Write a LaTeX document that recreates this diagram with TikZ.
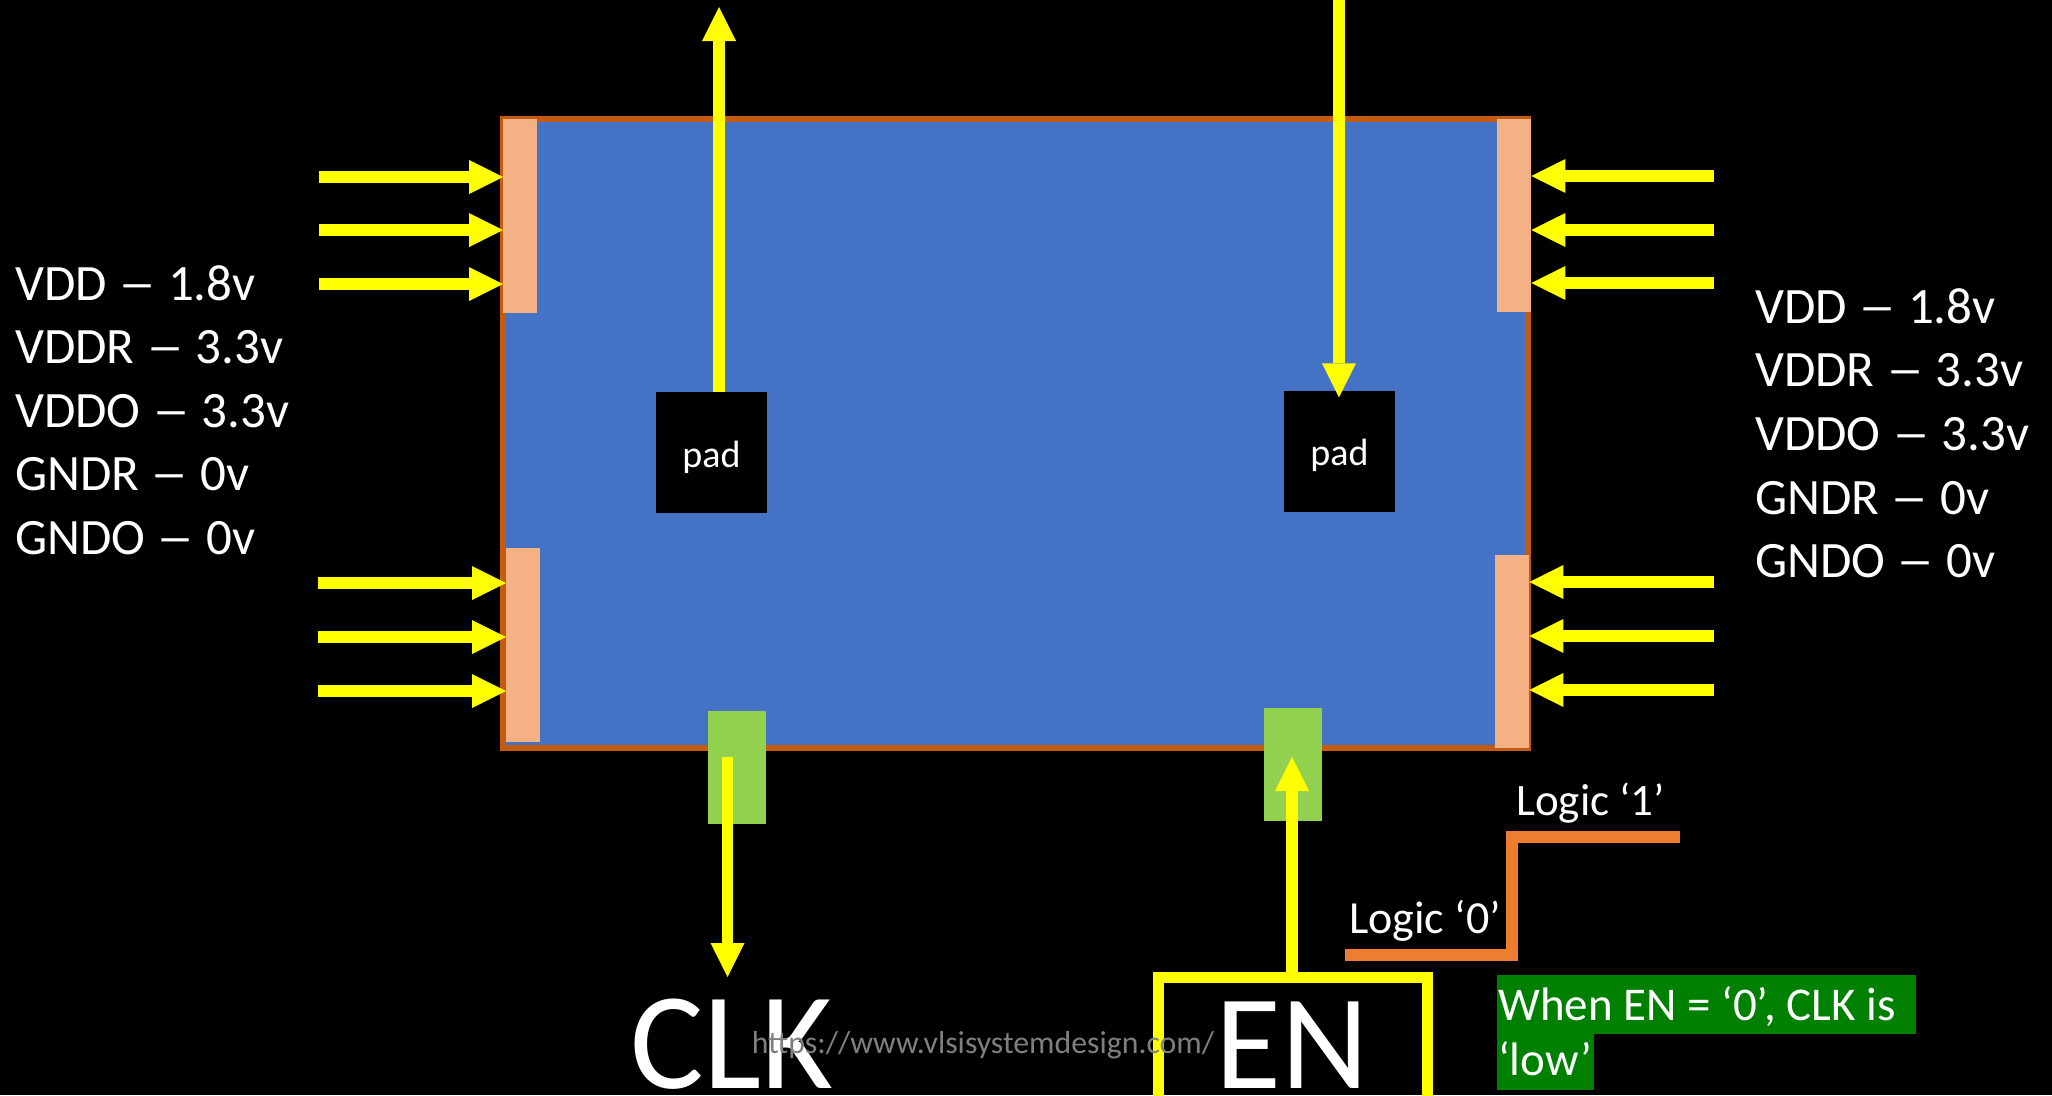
\documentclass[tikz,border=0pt]{standalone}
\usepackage{fontspec}
\usepackage{graphicx}
\setmainfont{Carlito}
\usetikzlibrary{arrows.meta}
\definecolor{chipblue}{HTML}{4472C4}
\definecolor{chipborder}{HTML}{C55A11}
\definecolor{peach}{HTML}{F4B183}
\definecolor{lime}{HTML}{92D050}
\definecolor{yel}{HTML}{FFFF00}
\definecolor{stepor}{HTML}{ED7D31}
\definecolor{hlgreen}{HTML}{008000}
\definecolor{wmgray}{HTML}{7F7F7F}
\newcommand\fsz[1]{\fontsize{#1}{#1}\selectfont}
\newcommand\voltdash{\scalebox{1.5}[1]{–}}
\tikzset{
  chip/.style={draw=chipborder, fill=chipblue, line width=6pt, inner sep=0pt,
    minimum width=1025pt, minimum height=629pt},
  peachpad/.style={fill=peach, inner sep=0pt, minimum width=34pt},
  padbox/.style={fill=black, inner sep=0pt, minimum width=111pt, minimum height=121pt,
    text=white, font=\fsz{38}, text height=29pt, text depth=0pt},
  limebox/.style={fill=lime, inner sep=0pt, minimum width=58pt, minimum height=113pt},
  yarr/.style={draw=yel, line width=11.5pt,
    -{Triangle[length=34pt,width=34pt,line width=0pt]}},
  enbox/.style={draw=yel, line width=11pt, inner sep=0pt, minimum width=269pt, minimum height=145pt},
  stepline/.style={draw=stepor, line width=11.5pt, line join=miter},
  txt/.style={text=white, inner sep=0pt},
  volt/.style={txt, anchor=base west, font=\fsz{51}},
}
\begin{document}
\begin{tikzpicture}[x=1pt,y=-1pt]
\useasboundingbox (0,0) rectangle (2052,1095);
\fill[black] (0,0) rectangle (2052,1095);

% chip
\node[chip] (chip) at (1015.5,433.5) {};
\node[peachpad, anchor=north west, minimum height=194pt] (pl1) at (503,119) {};
\node[peachpad, anchor=north west, minimum height=194pt] (pl2) at (506,548) {};
\node[peachpad, anchor=north west, minimum height=193pt] (pr1) at (1497,119) {};
\node[peachpad, anchor=north west, minimum height=193pt] (pr2) at (1495,555) {};

% pads
\node[padbox] (padL) at (711.5,452.5) {pad};
\node[padbox] (padR) at (1339.5,451) {pad};

% side arrows
\foreach \y [count=\i] in {177,230,284} {
  \coordinate (lt\i) at (319,\y);
  \draw[yarr] (lt\i) -- (lt\i -| pl1.west);
}
\foreach \y [count=\i] in {583,637,691} {
  \coordinate (lb\i) at (318,\y);
  \draw[yarr] (lb\i) -- (lb\i -| pl2.west);
}
\foreach \y [count=\i] in {176,230,283} {
  \coordinate (rt\i) at (1714,\y);
  \draw[yarr] (rt\i) -- (rt\i -| pr1.east);
}
\foreach \y [count=\i] in {582,636,690} {
  \coordinate (rb\i) at (1714,\y);
  \draw[yarr] (rb\i) -- (rb\i -| pr2.east);
}

% vertical arrows at pads
\coordinate (upL) at (719,7);
\draw[yarr] (upL |- padL.north) -- (upL);
\coordinate (dnR) at (1339,-5);
\draw[yarr] (dnR) -- ([yshift=-7pt]padR.north -| dnR);

% bottom I/O
\node[limebox] (gL) at (737,767.5) {};
\node[limebox] (gR) at (1293,764.5) {};
\coordinate (clkS) at (727.5,757);
\coordinate (clkT) at (727.5,977);
\draw[yarr] (clkS) -- (clkT);

\node[enbox] (enbox) at (1293,1050) {};
\coordinate (enT) at (1292,757);
\draw[yarr] (enbox.north -| enT) -- (enT);

% logic step
\coordinate (s0) at (1345,955);
\coordinate (s1) at (1512,837);
\coordinate (s2) at (1680,837);
\draw[stepline] (s0) -| (s1) -- (s2);
\node[txt, anchor=base west, font=\fsz{45}] (l1) at (1516,815) {Logic ‘1’};
\node[txt, anchor=base west, font=\fsz{46}] (l0) at (1349,933) {Logic ‘0’};

% voltage labels
\foreach \a/\b [count=\i] in {VDD/1.8v, VDDR/3.3v, VDDO/3.3v, GNDR/0v, GNDO/0v} {
  \node[volt] (vl\i) at (15,{300+63.5*(\i-1)}) {\a{} \voltdash{} \b};
  \node[volt] (vr\i) at (1755,{323+63.7*(\i-1)}) {\a{} \voltdash{} \b};
}

% big labels
\node[txt, anchor=base, font=\fsz{138}] (clk) at (732,1088) {CLK};
\node[txt, anchor=base, font=\fsz{135}] (en) at (1292,1088) {EN};

% note
\fill[hlgreen] (1497,975) rectangle (1916,1034);
\fill[hlgreen] (1497,1034) rectangle (1594,1090);
\node[txt, anchor=base west, font=\fsz{47}] (w1) at (1498,1020) {When EN = ‘0’, CLK is};
\node[txt, anchor=base west, font=\fsz{47}] (w2) at (1498,1075) {‘low’};

% watermark
\node[inner sep=0pt, text=wmgray, anchor=base, font=\fsz{31.8}] (wm) at (983,1053) {https://www.vlsisystemdesign.com/};
\end{tikzpicture}
\end{document}
